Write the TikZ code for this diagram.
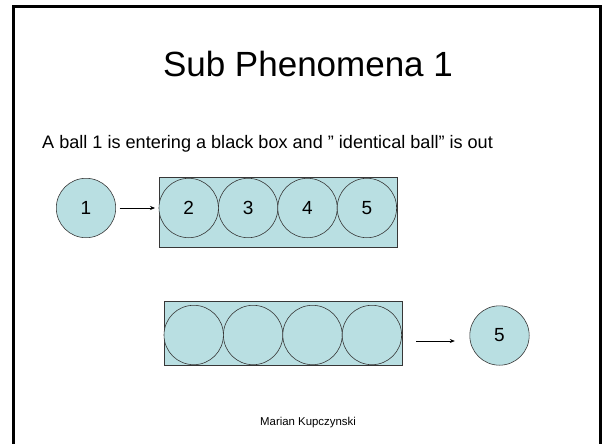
\documentclass[tikz,border=0pt]{standalone}
\usepackage{fontspec}
\setmainfont{Liberation Sans}
\usetikzlibrary{positioning,arrows.meta}

\definecolor{ballfill}{RGB}{185,223,226}
\definecolor{edgegray}{RGB}{55,55,55}

\begin{document}
\begin{tikzpicture}[x=1pt, y=-1pt, node distance=0pt, auto]

\tikzstyle{ball}=[circle, draw=edgegray, fill=ballfill, line width=0.6pt, minimum size=59.4pt, inner sep=0pt, outer sep=0pt, font=\fontsize{19}{21}\selectfont]
\tikzstyle{blackbox}=[rectangle, draw=edgegray, fill=ballfill, line width=0.8pt, minimum width=238pt, inner sep=0pt, outer sep=0pt]
\tikzstyle{pil}=[-{Stealth[length=5pt, width=4pt]}, line width=0.6pt]

\useasboundingbox (0,0) rectangle (602,444);
\draw[line width=3pt] (13.5,470) -- (13.5,6.5) -- (600.5,6.5) -- (600.5,470);

\node[anchor=base] (title) at (308,76) {\fontsize{35}{40}\selectfont Sub Phenomena 1};
\node[anchor=base west, inner sep=0pt] (intro) at (42,148) {\fontsize{18.1}{21}\selectfont A ball 1 is entering a black box and ” identical ball” is out};

% ball 1 goes in
\node[ball] (b1) at (86,208) {1};
\node[blackbox, minimum height=70pt] (box1) at (278,212) {};
\node[ball] (b2) at (188.7,208) {2};
\node[ball, right=of b2] (b3) {3};
\node[ball, right=of b3] (b4) {4};
\node[ball, right=of b4] (b5) {5};

\draw[pil, shorten <=4pt, shorten >=4pt] (b1.east) -- (b1.east -| box1.west);

% ball 5 comes out
\node[blackbox, minimum height=64pt] (box2) at (283,333) {};
\node[ball] (c1) at (193.7,335) {};
\node[ball, right=of c1] (c2) {};
\node[ball, right=of c2] (c3) {};
\node[ball, right=of c3] (c4) {};
\node[ball] (out) at (499.5,335.5) {5};

\draw[pil, shorten <=14pt, shorten >=15pt] ([yshift=-8pt]box2.east) -- ([yshift=-8pt]box2.east -| out.west);

\node[anchor=base] (author) at (308,425) {\fontsize{11.4}{13}\selectfont Marian Kupczynski};

\end{tikzpicture}
\end{document}
